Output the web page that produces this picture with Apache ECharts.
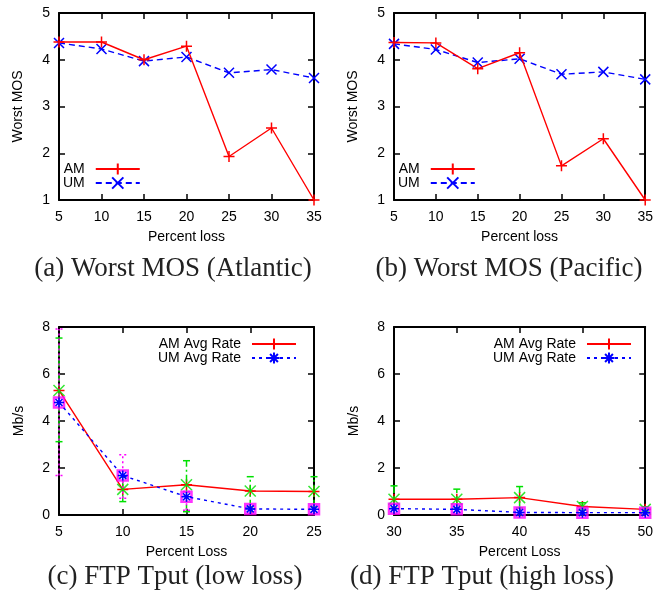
<!DOCTYPE html>
<html><head><meta charset="utf-8">
<script src="https://cdn.jsdelivr.net/npm/echarts@6/dist/echarts.min.js"></script>
<style>html,body{margin:0;padding:0;background:#fff}#c{width:656px;height:597px}</style>
</head><body><div id="c"></div>
<script>
// ---- data ----
const lossMOS = [5, 10, 15, 20, 25, 30, 35];
const atlAM = [4.38, 4.38, 4.00, 4.29, 1.93, 2.54, 1.00];
const atlUM = [4.36, 4.23, 3.97, 4.06, 3.72, 3.79, 3.61];
const pacAM = [4.37, 4.36, 3.81, 4.15, 1.73, 2.31, 1.00];
const pacUM = [4.34, 4.22, 3.94, 4.02, 3.69, 3.74, 3.58];

const lossLow = [5, 10, 15, 20, 25];
const lowAM = [5.30, 1.09, 1.29, 1.02, 1.00];
const lowAMmin = [3.12, 0.57, 0.14, 0.35, 0.35];
const lowAMmax = [7.53, 1.60, 2.31, 1.63, 1.63];
const lowUM = [4.79, 1.68, 0.78, 0.26, 0.24];
const lowUMmin = [1.68, 0.71, 0.20, 0.10, 0.10];
const lowUMmax = [7.91, 2.56, 1.00, 0.40, 0.40];

const lossHigh = [30, 35, 40, 45, 50];
const highAM = [0.67, 0.67, 0.74, 0.36, 0.24];
const highAMmin = [0.30, 0.30, 0.30, 0.20, 0.15];
const highAMmax = [1.24, 1.10, 1.21, 0.52, 0.35];
const highUM = [0.27, 0.24, 0.11, 0.10, 0.10];
const highUMmin = [0.10, 0.10, 0.02, 0.02, 0.02];
const highUMmax = [0.45, 0.40, 0.25, 0.20, 0.20];

const captions = ['(a) Worst MOS (Atlantic)', '(b) Worst MOS (Pacific)', '(c) FTP Tput (low loss)', '(d) FTP Tput (high loss)'];

// ---- styling ----
const SANS = 'Liberation Sans, Arial, Helvetica, sans-serif';
const SERIF = 'Liberation Serif, Times New Roman, serif';
const RED = '#ff0000', BLUE = '#0000ff', GREEN = '#00e000', MAG = '#ff00ff';
const PLUS = 'path://M5,0L5,10M0,5L10,5';
const CROSS = 'path://M0,0L10,10M10,0L0,10';
const STAR = 'path://M5,0L5,10M0,5L10,5M1.5,1.5L8.5,8.5M8.5,1.5L1.5,8.5';

const grids = [
  {left: 59, top: 13, width: 255, height: 187},
  {left: 394, top: 13, width: 255, height: 187},
  {left: 59, top: 327, width: 255, height: 188},
  {left: 394, top: 327, width: 255, height: 188}
];
const axDefs = [
  {xmin: 5, xmax: 35, ymin: 1, ymax: 5, yint: 1, xname: 'Percent loss', yname: 'Worst MOS', ygap: 34},
  {xmin: 5, xmax: 35, ymin: 1, ymax: 5, yint: 1, xname: 'Percent loss', yname: 'Worst MOS', ygap: 34},
  {xmin: 5, xmax: 25, ymin: 0, ymax: 8, yint: 2, xname: 'Percent Loss', yname: 'Mb/s', ygap: 33},
  {xmin: 30, xmax: 50, ymin: 0, ymax: 8, yint: 2, xname: 'Percent Loss', yname: 'Mb/s', ygap: 33}
];

const lineBlack = {show: true, onZero: false, lineStyle: {color: '#000', width: 2}};
const tickIn = {show: true, inside: true, length: 6, lineStyle: {color: '#000', width: 1.5}};
const xAxes = [], yAxes = [];
axDefs.forEach((d, g) => {
  xAxes.push({type: 'value', gridIndex: g, position: 'bottom', min: d.xmin, max: d.xmax, interval: 5,
    axisLine: lineBlack, axisTick: tickIn, splitLine: {show: false},
    axisLabel: {color: '#000', fontSize: 14, fontFamily: SANS, margin: 10},
    name: d.xname, nameLocation: 'middle', nameGap: 30,
    nameTextStyle: {color: '#000', fontSize: 14, fontFamily: SANS}});
  xAxes.push({type: 'value', gridIndex: g, position: 'top', min: d.xmin, max: d.xmax, interval: 5,
    axisLine: lineBlack, axisTick: tickIn, splitLine: {show: false}, axisLabel: {show: false}});
  yAxes.push({type: 'value', gridIndex: g, position: 'left', min: d.ymin, max: d.ymax, interval: d.yint,
    axisLine: lineBlack, axisTick: tickIn, splitLine: {show: false},
    axisLabel: {color: '#000', fontSize: 14, fontFamily: SANS, margin: 9},
    name: d.yname, nameLocation: 'middle', nameGap: d.ygap, nameRotate: 90,
    nameTextStyle: {color: '#000', fontSize: 14, fontFamily: SANS}});
  yAxes.push({type: 'value', gridIndex: g, position: 'right', min: d.ymin, max: d.ymax, interval: d.yint,
    axisLine: lineBlack, axisTick: tickIn, splitLine: {show: false}, axisLabel: {show: false}});
});

function pairs(xs, ys) { return xs.map((x, i) => [x, ys[i]]); }
function triples(xs, lo, hi) { return xs.map((x, i) => [x, lo[i], hi[i]]); }

function errRender(color, dash) {
  return function (params, api) {
    const x = api.value(0);
    const lo = api.coord([x, api.value(1)]);
    const hi = api.coord([x, api.value(2)]);
    const cw = 3.5;
    const st = {stroke: color, lineWidth: 1.5, lineDash: dash};
    return {type: 'group', children: [
      {type: 'line', shape: {x1: lo[0], y1: lo[1], x2: hi[0], y2: hi[1]}, style: st},
      {type: 'line', shape: {x1: hi[0] - cw, y1: hi[1], x2: hi[0] + cw, y2: hi[1]}, style: st},
      {type: 'line', shape: {x1: lo[0] - cw, y1: lo[1], x2: lo[0] + cw, y2: lo[1]}, style: st}
    ]};
  };
}

const series = [];
function mosPanel(g, am, um) {
  series.push({type: 'line', name: 'AM', xAxisIndex: 2 * g, yAxisIndex: 2 * g, data: pairs(lossMOS, am),
    symbol: PLUS, symbolSize: 11, z: 3,
    itemStyle: {color: RED, borderColor: RED, borderWidth: 1.5},
    lineStyle: {color: RED, width: 1.4}});
  series.push({type: 'line', name: 'UM', xAxisIndex: 2 * g, yAxisIndex: 2 * g, data: pairs(lossMOS, um),
    symbol: CROSS, symbolSize: 10, z: 2,
    itemStyle: {color: BLUE, borderColor: BLUE, borderWidth: 1.5},
    lineStyle: {color: BLUE, width: 1.4, type: [6, 4]}});
}
function ftpPanel(g, xs, am, amLo, amHi, um, umLo, umHi) {
  series.push({type: 'line', name: 'AM Avg Rate', xAxisIndex: 2 * g, yAxisIndex: 2 * g, data: pairs(xs, am),
    symbol: PLUS, symbolSize: 11, z: 2,
    itemStyle: {color: RED, borderColor: RED, borderWidth: 1.5},
    lineStyle: {color: RED, width: 1.4}});
  series.push({type: 'line', name: 'UM Avg Rate', xAxisIndex: 2 * g, yAxisIndex: 2 * g, data: pairs(xs, um),
    symbol: STAR, symbolSize: 10, z: 5,
    itemStyle: {color: BLUE, borderColor: BLUE, borderWidth: 1.5},
    lineStyle: {color: BLUE, width: 1.4, type: [3, 4]}});
  series.push({type: 'custom', name: 'amErr' + g, xAxisIndex: 2 * g, yAxisIndex: 2 * g,
    data: triples(xs, amLo, amHi), encode: {x: 0, y: [1, 2]}, z: 3,
    renderItem: errRender(GREEN, [7, 3, 2, 3])});
  series.push({type: 'scatter', name: 'amPt' + g, xAxisIndex: 2 * g, yAxisIndex: 2 * g, data: pairs(xs, am),
    symbol: CROSS, symbolSize: 11, z: 4,
    itemStyle: {color: GREEN, borderColor: GREEN, borderWidth: 1.5}});
  series.push({type: 'custom', name: 'umErr' + g, xAxisIndex: 2 * g, yAxisIndex: 2 * g,
    data: triples(xs, umLo, umHi), encode: {x: 0, y: [1, 2]}, z: 3,
    renderItem: errRender(MAG, [2, 3])});
  series.push({type: 'scatter', name: 'umPt' + g, xAxisIndex: 2 * g, yAxisIndex: 2 * g, data: pairs(xs, um),
    symbol: 'rect', symbolSize: 10, z: 4,
    itemStyle: {color: 'rgba(255,255,255,0.3)', borderColor: MAG, borderWidth: 2.5}});
}
mosPanel(0, atlAM, atlUM);
mosPanel(1, pacAM, pacUM);
ftpPanel(2, lossLow, lowAM, lowAMmin, lowAMmax, lowUM, lowUMmin, lowUMmax);
ftpPanel(3, lossHigh, highAM, highAMmin, highAMmax, highUM, highUMmin, highUMmax);

function legend(left, top, names) {
  return {left: left, top: top, orient: 'vertical', align: 'right', itemWidth: 44, itemHeight: 14,
    itemGap: 0, padding: 0, selectedMode: false, data: names,
    textStyle: {color: '#000', fontSize: 14, fontFamily: SANS, padding: [0, 6, 0, 0]}};
}

const capPos = [[173, 269], [509, 269], [175, 577], [482, 577]];
const graphic = captions.map((t, i) => ({type: 'text', x: capPos[i][0], y: capPos[i][1],
  style: {text: t, align: 'center', verticalAlign: 'middle', font: '27px ' + SERIF, fill: '#222'}}));

const chart = echarts.init(document.getElementById('c'), null, {renderer: 'canvas'});
chart.setOption({
  animation: false,
  backgroundColor: '#fff',
  grid: grids,
  xAxis: xAxes,
  yAxis: yAxes,
  legend: [legend(63, 162, ['AM', 'UM']), legend(398, 162, ['AM', 'UM']),
           legend(158, 337, ['AM Avg Rate', 'UM Avg Rate']), legend(493, 337, ['AM Avg Rate', 'UM Avg Rate'])],
  series: series,
  graphic: graphic
});
</script></body></html>
